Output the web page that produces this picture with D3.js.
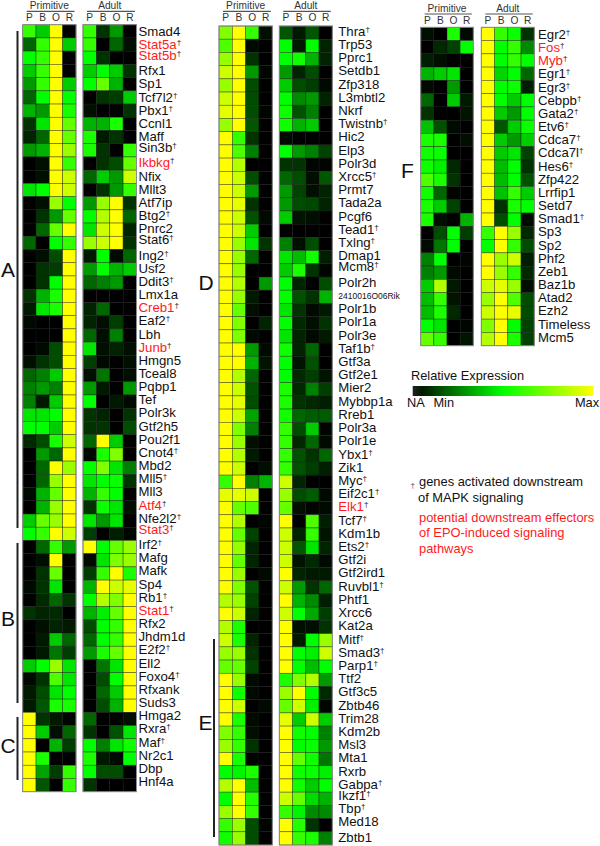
<!DOCTYPE html>
<html>
<head>
<meta charset="utf-8">
<style>
  html, body { margin: 0; padding: 0; background: #fff; }
  svg { display: block; }
  text { font-family: "Liberation Sans", Arial, sans-serif; fill: #111; }
</style>
<script src="https://cdn.jsdelivr.net/npm/d3@7/dist/d3.min.js"></script>
</head>
<body>
<div id="chart"></div>
<script>
// columns of every heatmap block
const conditions = ["P", "B", "O", "R"];

// left panel, clusters A B C
const genesLeft = ["Smad4","Stat5a","Stat5b","Rfx1","Sp1","Tcf7l2","Pbx1","Ccnl1","Maff","Sin3b","Ikbkg","Nfix","Mllt3","Atf7ip","Btg2","Pnrc2","Stat6","Ing2","Usf2","Ddit3","Lmx1a","Creb1","Eaf2","Lbh","Junb","Hmgn5","Tceal8","Pqbp1","Tef","Polr3k","Gtf2h5","Pou2f1","Cnot4","Mbd2","Mll5","Mll3","Atf4","Nfe2l2","Stat3","Irf2","Mafg","Mafk","Sp4","Rb1","Stat1","Rfx2","Jhdm1d","E2f2","Ell2","Foxo4","Rfxank","Suds3","Hmga2","Rxra","Maf","Nr2c1","Dbp","Hnf4a"];
const primitiveLeft = [[6,4,10,0],[2,6,10,4],[5,6,10,0],[4,6,10,0],[3,6,10,4],[2,5,10,5],[3.5,3,10,5.5],[1,4.5,10,7],[.7,2,10,7],[3,3.5,10,8],[0,.3,10,6],[0,.3,10,9],[4.5,5,10,9],[0,.3,8,5],[0,1,3,7],[0,2,7,10],[2,0,5,6],[0,.3,1.5,10],[0,1,1.2,10],[0,1,5,10],[1,3.5,5.5,10],[.5,4.5,5.5,10],[.2,0,0,10],[0,0,0,10],[0,.2,1.5,10],[.3,1,1.5,10],[2,2.5,4,10],[2.5,3,2.5,10],[2.5,.5,4,10],[4.5,4.5,5,10],[5,5,4,10],[.8,1.5,5.5,9],[0,3,2,10],[0,2,10,8],[0,2,8,10],[.2,3.5,7,10],[0,3.5,8,10],[4,7,8,10],[5,6,10,9],[0,2,6,3],[0,.3,10,0],[0,1,7,0],[.2,1,4.5,0],[0,.8,2,1],[1,.7,.8,0],[0,.3,.7,.5],[0,.5,4,2],[0,.5,2.3,1.2],[4,5,8,4.5],[.2,1,6.5,4.5],[.5,1.5,4.5,5],[.5,1.7,5.5,5.5],[10,1,.5,.1],[10,4,.3,2],[10,0,3.5,1.2],[10,5.5,0,0],[10,3.2,1.2,6],[10,1.7,0,6]];
const adultLeft = [[6,1,3,0],[6,0,2,.3],[5,1,0,0],[4,5,4,1],[5,7,3.5,0],[0,1,1.2,4],[.3,0,0,1],[3.5,3.5,5.5,0],[5.5,.5,1,0],[5.5,1,0,6],[0,1,1.5,7],[2,4,3,9],[0,1,3,6],[3,8,10,1],[5,8.5,10,2],[4.5,9,10,.7],[8,9,10,1],[.5,5,.2,2],[3,5,3.5,4],[2,2.5,3,0],[0,0,0,0],[.7,2,0,0],[.7,.3,1.2,0],[2,.3,2.5,0],[4.5,.3,.7,.3],[1.2,.2,0,.3],[.3,2.3,0,.3],[3,.5,0,3],[5,0,.5,.2],[1,.7,0,1],[1,1,0,1.5],[2,10,4,0],[.2,5.5,7.5,0],[5,7.5,4.5,2.5],[4.5,5,5.2,1],[3.5,6,5,0],[1,5.2,4.5,.3],[4.5,3,4.5,0],[1.2,0,.6,.1],[10,5,7,8],[.2,4.5,7.5,8],[1.2,6,10,5.5],[3.5,10,9,9.5],[5,8.5,7.5,10],[3.5,4.7,7,10],[1.5,5,6,10],[2,5,6,10],[3,5.5,7,10],[0,2.3,4.5,10],[0,1.5,5,10],[0,2,4,10],[0,1.5,3.5,10],[2,0,.1,.3],[1,0,1.6,4.5],[5,2.5,4.5,5.3],[5.5,.5,.2,5],[5,1.5,1.5,0],[1,0,0,0]];

// middle panel, clusters D E
const genesMiddle = ["Thra","Trp53","Pprc1","Setdb1","Zfp318","L3mbtl2","Nkrf","Twistnb","Hic2","Elp3","Polr3d","Xrcc5","Prmt7","Tada2a","Pcgf6","Tead1","Txlng","Dmap1","Mcm8","Polr2h","2410016O06Rik","Polr1b","Polr1a","Polr3e","Taf1b","Gtf3a","Gtf2e1","Mier2","Mybbp1a","Rreb1","Polr3a","Polr1e","Ybx1","Zik1","Myc","Eif2c1","Elk1","Tcf7","Kdm1b","Ets2","Gtf2i","Gtf2ird1","Ruvbl1","Phtf1","Xrcc6","Kat2a","Mitf","Smad3","Parp1","Ttf2","Gtf3c5","Zbtb46","Trim28","Kdm2b","Msl3","Mta1","Rxrb","Gabpa","Ikzf1","Tbp","Med18","Zbtb1"];
const primitiveMiddle = [[7.5,10,6,.3],[6.5,10,.2,0],[8,10,1,0],[9,10,3,.1],[8,10,1.5,0],[9,10,1.5,0],[9.5,10,1.5,.1],[8,10,1.7,0],[10,6,1,0],[10,6.5,2.5,0],[10,8.5,0,0],[10,9,1.5,0],[10,9,3,0],[10,9.5,1,0],[10,9,1.6,.2],[10,9,4,0],[10,8,4.5,1],[10,8,2,0],[10,8,0,0],[10,8.5,0,3],[10,8,.5,0],[10,7,.3,0],[10,7.5,0,.7],[10,7.5,.2,0],[10,10,3,.2],[10,10,3.5,.4],[10,8.5,2,0],[10,9,1.6,0],[10,9.5,1.5,0],[10,9,3.2,0],[10,7.5,2.5,0],[10,8,.3,0],[10,8.5,.5,0],[10,9,0,.3],[6,10,2.5,3.5],[9.5,9.5,9,0],[10,7,6.5,0],[10,8.5,0,.1],[10,7,1.3,0],[10,8,.7,0],[10,7,.7,0],[10,8,0,.2],[10,7.5,1.6,0],[8.5,8,1.3,0],[10,9,.7,0],[8.5,5.5,0,0],[9,5.5,.7,0],[8,8,1,0],[7,7,1.3,0],[10,8,.2,0],[10,5.3,.2,0],[10,9,0,.2],[10,5.5,.2,0],[7.5,6,.3,0],[8,6,1,0],[10,5.5,.1,0],[5,4.8,5.5,0],[8.5,10,3.7,0],[5,10,5.7,0],[8,10,6,0],[6,8,1.5,.1],[5.3,8,1.5,0]];
const adultMiddle = [[1.7,.5,1.7,0],[5,.5,5,.7],[5,5.3,3.5,.7],[3,.7,1.5,0],[4,1.5,1.2,.2],[5,2.7,3,.7],[5.3,1.6,2.5,0],[5.3,3.5,4,0],[.2,0,0,0],[5,3,2.5,1.3],[1,1,.1,.1],[2,1.5,.3,1.7],[3,1.3,.3,.7],[3,1.5,1.4,.7],[4,.4,.3,0],[0,0,0,0],[2.5,.3,1.5,0],[4.5,3.7,5.3,.6],[4,5.5,1,.1],[5,.7,0,1.5],[5,1.6,1,3.5],[4.5,1,.2,.5],[5,.8,.3,1],[4.5,.7,.2,.5],[5.3,.7,2,0],[5,.4,1.6,0],[5,.8,1.2,.4],[5.5,.8,2.5,1.2],[5.5,1,.8,.6],[5.3,2,1.8,1.8],[6,1.5,4,.1],[6,.8,2,.2],[6,1.6,1,2],[6,1.6,1.2,.6],[9,.7,0,0],[8,1.5,1.8,.2],[7,.3,.1,.2],[10,0,6.5,.6],[9,.7,6,.4],[9,1.7,4.5,.7],[9,.4,.8,.2],[10,.7,.5,.5],[9,3,1,2],[10,3.5,2.7,.6],[9,5,3.3,1.2],[10,.3,.3,1],[10,.5,5,8],[10,5,4.7,9],[10,5,3.7,5],[5.5,7.5,8.5,3],[8,10,5,.8],[7,9,4.7,.1],[9.5,4,9,4],[10,5.3,5,2.5],[10,5,5.2,3],[10,7,5.3,2.3],[10,5.3,5.2,4.7],[10,5.3,4,5],[9,7,4.3,3.5],[6,4.8,2.7,2.7],[10,5.7,1,0],[10,6,5.5,2.5]];

// right panel, cluster F
const genesRight = ["Egr2","Fos","Myb","Egr1","Egr3","Cebpb","Gata2","Etv6","Cdca7","Cdca7l","Hes6","Zfp422","Lrrfip1","Setd7","Smad1","Sp3","Sp2","Phf2","Zeb1","Baz1b","Atad2","Ezh2","Timeless","Mcm5"];
const primitiveRight = [[.3,0,5.5,.2],[0,.8,1.3,5],[.6,.3,0,0],[3.5,4,4.5,0],[.2,0,3,0],[2,0,4,.5],[1,0,0,.4],[3.8,1.6,.2,0],[5.5,5.5,0,.3],[5.3,5.2,0,0],[5.3,4.7,.8,0],[6.5,5.5,1,0],[5.3,2,.1,0],[5.5,4,1.3,0],[5.5,.3,0,3.5],[0,1.5,5,1.2],[.2,2.3,5,0],[2.5,5,0,.1],[2.5,3,.2,0],[4,8.5,.5,0],[3.7,6,.4,0],[3.7,5.5,.8,0],[5,4.5,0,.1],[7,6,0,.4]];
const adultRight = [[10,6,5.2,1],[10,5,6,2.7],[10,5,6,5],[10,4.2,5,2],[10,5,5.2,.6],[10,5,4,5],[10,4,3,5],[10,1.7,4,5.2],[10,4,3,4],[10,4,4.5,1.3],[10,3.7,5,1],[10,3.7,5,1.6],[10,3.8,6,4],[10,1,5.5,5],[10,1.5,5,.2],[6,10,8,.8],[5,10,6,1.5],[10,8,9,.6],[10,8,6,.8],[9,9.5,8,.3],[8,10,6.5,1.5],[9,10,9.5,1.5],[7.5,10,5,1.3],[8.5,10,5.5,1.3]];

// labels drawn in red, and labels carrying the dagger
const redGenes = ["Stat5a","Stat5b","Ikbkg","Creb1","Junb","Atf4","Stat3","Stat1","Elk1","Fos","Myb"];
const daggerGenes = ["Stat5a","Stat5b","Tcf7l2","Pbx1","Sin3b","Ikbkg","Btg2","Stat6","Ing2","Ddit3","Creb1","Eaf2","Junb","Cnot4","Mll5","Atf4","Nfe2l2","Stat3","Irf2","Rb1","Stat1","E2f2","Foxo4","Rxra","Maf","Thra","Twistnb","Xrcc5","Tead1","Txlng","Mcm8","Taf1b","Ybx1","Myc","Eif2c1","Elk1","Tcf7","Ets2","Ruvbl1","Mitf","Smad3","Parp1","Gabpa","Ikzf1","Tbp","Egr2","Fos","Myb","Egr1","Egr3","Cebpb","Gata2","Etv6","Cdca7","Cdca7l","Hes6","Smad1"];

const legendTicks = ["NA", "Min", "Max"];
const noteBlack = ["genes activated downstream", "of MAPK signaling"];
const noteRed = ["potential downstream effectors", "of EPO-induced signaling", "pathways"];

const width = 600, height = 846;
const color = d3.scaleLinear().domain([0, 5, 10]).range(["#000000", "#00ff00", "#ffff00"]);

const svg = d3.select("#chart").append("svg").attr("width", width).attr("height", height);

const panels = [
  {genes: genesLeft, prim: primitiveLeft, adult: adultLeft, px: [22.7, 76], ax: [83, 136.5], y: [24.7, 791.7], lx: 138.5, ly: [35.8, 786], head: 8.8},
  {genes: genesMiddle, prim: primitiveMiddle, adult: adultMiddle, px: [219, 272.3], ax: [279.3, 332.3], y: [26, 845], lx: 338.3, ly: [35.7, 841.7], head: 8.8},
  {genes: genesRight, prim: primitiveRight, adult: adultRight, px: [420.7, 473.3], ax: [481.3, 534.3], y: [27.3, 345.7], lx: 538, ly: [39, 341.7], head: 11.5}
];

// a few labels sit higher than their neighbours in the figure
const raised = ["Stat5b", "Sin3b", "Stat6", "Stat3", "Mcm8", "Ikzf1", "Tbp", "Med18"];

panels.forEach(p => {
  const y = d3.scaleBand().domain(p.genes).range(p.y);
  const labelY = d3.scalePoint().domain(p.genes).range(p.ly);
  const blocks = [
    {name: "Primitive", values: p.prim, range: p.px},
    {name: "Adult", values: p.adult, range: p.ax}
  ];

  blocks.forEach(b => {
    const x = d3.scaleBand().domain(conditions).range(b.range);
    const g = svg.append("g");

    g.selectAll("g.row")
      .data(b.values)
      .enter().append("g")
      .attr("class", "row")
      .attr("transform", (d, i) => "translate(0," + y(p.genes[i]) + ")")
      .selectAll("rect")
      .data(d => d)
      .enter().append("rect")
      .attr("x", (d, i) => x(conditions[i]))
      .attr("width", x.bandwidth())
      .attr("height", y.bandwidth())
      .attr("fill", d => color(d))
      .attr("stroke", "#141414")
      .attr("stroke-opacity", 0.65)
      .attr("stroke-width", 0.6);

    // grey frame round the block
    g.append("rect")
      .attr("x", b.range[0])
      .attr("y", p.y[0])
      .attr("width", b.range[1] - b.range[0])
      .attr("height", p.y[1] - p.y[0])
      .attr("fill", "none")
      .attr("stroke", "#8c8c8c")
      .attr("stroke-width", 1);

    // header
    g.append("text")
      .attr("x", (b.range[0] + b.range[1]) / 2)
      .attr("y", p.head)
      .attr("text-anchor", "middle")
      .attr("font-size", 10.2)
      .style("fill", "#333")
      .text(b.name);
    g.append("line")
      .attr("x1", b.range[0] + 4)
      .attr("x2", b.range[1] - 1.5)
      .attr("y1", p.head + 2.5)
      .attr("y2", p.head + 2.5)
      .attr("stroke", "#555")
      .attr("stroke-width", 1.2);
    g.selectAll("text.col")
      .data(conditions)
      .enter().append("text")
      .attr("class", "col")
      .attr("x", d => x(d) + x.bandwidth() / 2)
      .attr("y", p.head + 12)
      .attr("text-anchor", "middle")
      .attr("font-size", 10.2)
      .style("fill", "#333")
      .text(d => d);
  });

  // gene labels
  const labels = svg.append("g").selectAll("text")
    .data(p.genes)
    .enter().append("text")
    .attr("x", p.lx)
    .attr("y", d => labelY(d) - (raised.includes(d) ? 2.2 : 0) - (d === "2410016O06Rik" ? 1 : 0))
    .attr("font-size", d => d === "2410016O06Rik" ? 8.5 : 13.2)
    .style("fill", d => redGenes.includes(d) ? "#ff1a1a" : "#111")
    .text(d => d);
  labels.filter(d => daggerGenes.includes(d))
    .append("tspan")
    .attr("dy", -4)
    .attr("font-size", 8)
    .style("fill", "#111")
    .text("†");
});

// cluster brackets and letters
const brackets = [
  {name: "A", x: 17.5, y1: 31, y2: 528, lx: 1, ly: 277},
  {name: "B", x: 17.5, y1: 543, y2: 703, lx: 1, ly: 626},
  {name: "C", x: 17.5, y1: 717, y2: 780, lx: 0.5, ly: 753},
  {name: "D", x: null, lx: 198.5, ly: 290},
  {name: "E", x: 214, y1: 639, y2: 837, lx: 198.5, ly: 730},
  {name: "F", x: null, lx: 401, ly: 178}
];
brackets.forEach(b => {
  if (b.x !== null) {
    svg.append("line")
      .attr("x1", b.x).attr("x2", b.x)
      .attr("y1", b.y1).attr("y2", b.y2)
      .attr("stroke", "#222")
      .attr("stroke-width", 2);
  }
  svg.append("text")
    .attr("x", b.lx)
    .attr("y", b.ly)
    .attr("font-size", 21)
    .text(b.name);
});

// colour legend
const legendX = d3.scaleLinear().domain([0, 10]).range([412.7, 593.3]);
const grad = svg.append("defs").append("linearGradient").attr("id", "ramp");
grad.selectAll("stop")
  .data(d3.range(0, 10.5, 0.5))
  .enter().append("stop")
  .attr("offset", d => d / 10)
  .attr("stop-color", d => d === 0 ? "#222222" : color(d));
svg.append("rect")
  .attr("x", legendX(0))
  .attr("y", 386)
  .attr("width", legendX(10) - legendX(0))
  .attr("height", 10)
  .attr("fill", "url(#ramp)");
svg.append("text")
  .attr("x", 411)
  .attr("y", 380)
  .attr("font-size", 12.8)
  .text("Relative Expression");
svg.selectAll("text.tick")
  .data(legendTicks)
  .enter().append("text")
  .attr("class", "tick")
  .attr("x", (d, i) => [416, 443.7, 587][i])
  .attr("y", 407.3)
  .attr("text-anchor", "middle")
  .attr("font-size", 12.8)
  .text(d => d);

// footnotes
svg.append("text").attr("x", 410.5).attr("y", 488).attr("font-size", 8).style("fill", "#444").text("†");
svg.selectAll("text.note")
  .data(noteBlack)
  .enter().append("text")
  .attr("class", "note")
  .attr("x", (d, i) => i === 0 ? 419 : 418)
  .attr("y", (d, i) => 486 + i * 15.7)
  .attr("font-size", 12.9)
  .text(d => d);
svg.selectAll("text.red")
  .data(noteRed)
  .enter().append("text")
  .attr("class", "red")
  .attr("x", 419)
  .attr("y", (d, i) => 521.7 + i * 15.5)
  .attr("font-size", 12.9)
  .style("fill", "#ff1a1a")
  .text(d => d);
</script>
</body>
</html>
